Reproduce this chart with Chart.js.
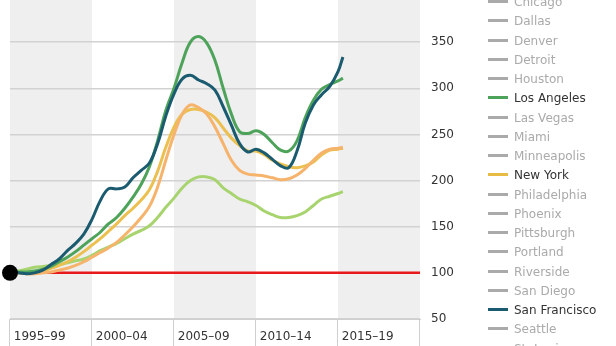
<!DOCTYPE html>
<html>
<head>
<meta charset="utf-8">
<script src="https://cdn.jsdelivr.net/npm/chart.js@4.4.1/dist/chart.umd.min.js"></script>
<style>
  body { margin: 0; width: 616px; height: 346px; overflow: hidden; background: #fff; position: relative; }
  #wrap { position: absolute; left: 0; top: -12px; width: 616px; height: 358px; }
  #legend { position: absolute; left: 488px; top: -7px; font-family: Verdana, "DejaVu Sans", sans-serif; font-size: 12px; }
  #legend div { height: 19.25px; line-height: 19.25px; white-space: nowrap; color: #aaa; }
  #legend span { display: inline-block; width: 20px; height: 3px; background: #aaa; vertical-align: middle; margin-right: 6px; position: relative; top: -1px; }
</style>
</head>
<body>
<div id="wrap"><canvas id="chart" width="616" height="358"></canvas></div>
<div id="legend"></div>
<script>
// half-yearly index, 1995 = 100
const years = [1995, 1995.5, 1996, 1996.5, 1997, 1997.5, 1998, 1998.5, 1999, 1999.5,
  2000, 2000.5, 2001, 2001.5, 2002, 2002.5, 2003, 2003.5, 2004, 2004.5,
  2005, 2005.5, 2006, 2006.5, 2007, 2007.5, 2008, 2008.5, 2009, 2009.5,
  2010, 2010.5, 2011, 2011.5, 2012, 2012.5, 2013, 2013.5, 2014, 2014.5, 2015, 2015.3];

const losAngeles = [100, 101, 101, 102, 104, 107, 112, 117, 123, 130,
  137, 144, 153, 160, 170, 182, 196, 215, 243, 276,
  300, 328, 350, 356, 349, 330, 300, 272, 253, 251,
  254, 250, 241, 233, 232, 243, 268, 287, 299, 304, 308, 311];

const sanFrancisco = [100, 100, 99, 100, 103, 109, 115, 124, 132, 142,
  158, 178, 191, 191, 193, 203, 211, 219, 240, 270,
  294, 310, 314, 309, 305, 298, 280, 260, 240, 231,
  234, 230, 223, 216, 214, 232, 262, 282, 293, 302, 318, 334];

const newYork = [100, 100, 100, 101, 102, 105, 108, 112, 117, 123,
  130, 137, 145, 153, 162, 170, 179, 190, 210, 236,
  258, 272, 277, 277, 274, 268, 257, 246, 238, 232,
  232, 228, 222, 218, 215, 214, 216, 220, 228, 233, 234, 235];

const lightOrange = [100, 100, 99, 99, 100, 101, 103, 105, 108, 112,
  117, 122, 127, 133, 141, 150, 160, 172, 193, 222,
  250, 272, 282, 279, 272, 258, 240, 222, 211, 207,
  206, 205, 203, 201, 202, 206, 213, 222, 230, 234, 235, 236];

const lightGreen = [100, 102, 104, 106, 107, 108, 109, 111, 113, 115,
  119, 124, 128, 132, 137, 142, 146, 151, 160, 171,
  181, 192, 200, 204, 204, 201, 192, 186, 180, 177,
  173, 167, 163, 160, 160, 162, 166, 173, 180, 183, 186, 188];

const periodStarts = [1995, 2000, 2005, 2010, 2015, 2020];
const periodLabels = ['1995–99', '2000–04', '2005–09', '2010–14', '2015–19', ''];
const shadedStarts = [1995, 2005, 2015];

const legendCities = ['Chicago', 'Dallas', 'Denver', 'Detroit', 'Houston', 'Los Angeles', 'Las Vegas',
  'Miami', 'Minneapolis', 'New York', 'Philadelphia', 'Phoenix', 'Pittsburgh', 'Portland',
  'Riverside', 'San Diego', 'San Francisco', 'Seattle', 'St. Louis'];
const highlight = { 'Los Angeles': '#4ea35a', 'New York': '#e8bb45', 'San Francisco': '#1b5b70' };

function pts(arr) {
  return arr.map((v, i) => ({ x: years[i], y: v }));
}

// build legend
const legendEl = document.getElementById('legend');
legendCities.forEach(name => {
  const row = document.createElement('div');
  const sw = document.createElement('span');
  if (highlight[name]) {
    sw.style.background = highlight[name];
    row.style.color = '#333';
  }
  row.appendChild(sw);
  row.appendChild(document.createTextNode(name));
  legendEl.appendChild(row);
});

// grey bands behind the grid, separators under the axis
const bandsPlugin = {
  id: 'bands',
  beforeDraw(chart) {
    const { ctx, chartArea, scales } = chart;
    ctx.save();
    ctx.fillStyle = '#efefef';
    shadedStarts.forEach(s => {
      const x1 = scales.x.getPixelForValue(s);
      const x2 = scales.x.getPixelForValue(s + 5);
      ctx.fillRect(x1, chartArea.top, x2 - x1, chartArea.bottom - chartArea.top);
    });
    ctx.restore();
  },
  afterDraw(chart) {
    const { ctx, chartArea, scales } = chart;
    ctx.save();
    ctx.strokeStyle = '#cfcfcf';
    ctx.lineWidth = 1;
    periodStarts.forEach(s => {
      const x = Math.round(scales.x.getPixelForValue(s)) - 0.5;
      ctx.beginPath();
      ctx.moveTo(x, chartArea.bottom);
      ctx.lineTo(x, chart.height);
      ctx.stroke();
    });
    ctx.restore();
  }
};

const lineOpts = { borderWidth: 3, pointRadius: 0, tension: 0.4, fill: false };

new Chart(document.getElementById('chart'), {
  type: 'line',
  data: {
    datasets: [
      { label: 'Black dot', data: [{ x: 1995, y: 100 }], showLine: false, pointRadius: 8,
        pointBackgroundColor: '#000', pointBorderColor: '#000', borderWidth: 0, clip: false, order: 0 },
      { label: 'San Francisco', data: pts(sanFrancisco), borderColor: '#1b5b70', ...lineOpts, order: 1 },
      { label: 'Los Angeles', data: pts(losAngeles), borderColor: '#4ea35a', ...lineOpts, order: 2 },
      { label: 'New York', data: pts(newYork), borderColor: '#ecc050', ...lineOpts, order: 4 },
      { label: 'Washington', data: pts(lightOrange), borderColor: '#f6b36c', ...lineOpts, order: 3 },
      { label: 'Boston', data: pts(lightGreen), borderColor: '#a8d470', ...lineOpts, order: 5 },
      { label: 'Base', data: [{ x: 1995, y: 100 }, { x: 2020, y: 100 }], borderColor: '#e8191c',
        borderWidth: 2.5, pointRadius: 0, order: 6 }
    ]
  },
  options: {
    responsive: false,
    animation: false,
    layout: { padding: { left: 10, top: 8, right: 0, bottom: 0 } },
    plugins: { legend: { display: false }, tooltip: { enabled: false } },
    scales: {
      x: {
        type: 'linear',
        min: 1995,
        max: 2020,
        afterBuildTicks(scale) {
          scale.ticks = periodStarts.map(v => ({ value: v }));
        },
        afterFit(scale) {
          scale.height = 27;
          scale.paddingLeft = 0;
          scale.paddingRight = 0;
        },
        grid: { display: false },
        border: { display: true, color: '#cfcfcf', width: 1 },
        ticks: {
          align: 'start',
          padding: 3,
          maxRotation: 0,
          autoSkip: false,
          color: '#333',
          font: { family: 'Verdana, "DejaVu Sans"', size: 12 },
          callback: (v) => {
            const i = periodStarts.indexOf(v);
            return i >= 0 ? ' ' + periodLabels[i] : '';
          }
        }
      },
      y: {
        position: 'right',
        min: 50,
        max: 400,
        afterFit(scale) {
          scale.width = 196;
          scale.paddingTop = 0;
          scale.paddingBottom = 0;
        },
        grid: { color: '#d2d2d2', lineWidth: 1.5, drawTicks: false },
        border: { display: false },
        ticks: {
          stepSize: 50,
          padding: 11,
          color: '#333',
          font: { family: 'Verdana, "DejaVu Sans"', size: 12 }
        }
      }
    }
  },
  plugins: [bandsPlugin]
});
</script>
</body>
</html>
